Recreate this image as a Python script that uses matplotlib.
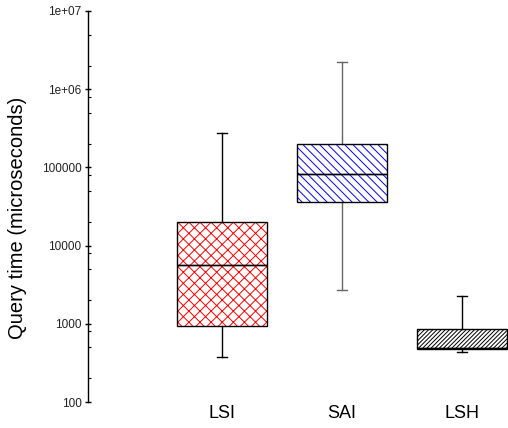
import matplotlib.pyplot as plt
from matplotlib.ticker import FixedLocator, NullFormatter

plt.rcParams['font.family'] = ['Liberation Sans', 'DejaVu Sans']
plt.rcParams['hatch.linewidth'] = 0.7

# box plot numbers (microseconds)
methods = ["LSI", "SAI", "LSH"]
whisker_low = [374, 2670, 438]
box_low = [942, 36300, 473]
medians = [5650, 83000, 492]
box_high = [19900, 201000, 871]
whisker_high = [273000, 2200000, 2240]

hatch_colors = ["#ff0000", "#0000ff", "#000000"]
hatches = ["xxx", "\\\\\\\\", "////////"]
whisker_colors = ["#000000", "#666666", "#000000"]

major_ticks = [100, 1000, 10000, 100000, 1000000, 10000000]
major_labels = ["100", "1000", "10000", "100000", "1e+06", "1e+07"]

stats = []
for i in range(len(methods)):
    stats.append({
        "label": methods[i],
        "whislo": whisker_low[i],
        "q1": box_low[i],
        "med": medians[i],
        "q3": box_high[i],
        "whishi": whisker_high[i],
        "fliers": [],
    })

fig = plt.figure(figsize=(5.08, 4.28), dpi=100)
ax = fig.add_axes([0.173, 0.0607, 0.827, 0.9136])

for i in range(len(methods)):
    # hatched fill first, then the black outline on top
    ax.bxp([stats[i]], positions=[i + 1], widths=0.75, capwidths=0.09,
           patch_artist=True, showfliers=False, manage_ticks=False,
           boxprops=dict(facecolor="white", edgecolor=hatch_colors[i], linewidth=0, hatch=hatches[i]),
           whiskerprops=dict(color=whisker_colors[i], linewidth=1.0),
           capprops=dict(color=whisker_colors[i], linewidth=1.0),
           medianprops=dict(color="black", linewidth=1.0))
    ax.bxp([stats[i]], positions=[i + 1], widths=0.75, capwidths=0.09,
           patch_artist=True, showfliers=False, manage_ticks=False,
           showcaps=False,
           boxprops=dict(facecolor="none", edgecolor="black", linewidth=1.0),
           whiskerprops=dict(linewidth=0),
           medianprops=dict(color="black", linewidth=1.0))

ax.set_yscale("log")
ax.set_ylim(100, 10000000)
ax.set_xlim(-0.1167, 3.3833)

ax.yaxis.set_major_locator(FixedLocator(major_ticks))
ax.set_yticklabels(major_labels)
minor = []
for m in major_ticks[:-1]:
    for f in [2, 5, 8]:
        if m * f < 8000000:
            minor.append(m * f)
ax.yaxis.set_minor_locator(FixedLocator(minor))
ax.yaxis.set_minor_formatter(NullFormatter())
ax.tick_params(axis="y", which="major", direction="inout", length=5, width=1.0,
               labelsize=8.5, pad=2, labelcolor="#222222")
ax.tick_params(axis="y", which="minor", direction="in", length=2.5, width=0.8)

ax.set_xticks([1, 2, 3])
ax.set_xticklabels(methods)
ax.tick_params(axis="x", length=0, labelsize=13, pad=2)

for s in ["top", "right", "bottom"]:
    ax.spines[s].set_visible(False)
ax.spines["left"].set_linewidth(1.0)

ax.set_ylabel("Query time (microseconds)", fontsize=14.5)
ax.yaxis.set_label_coords(-0.145, 0.47)

fig.savefig("out.png", dpi=100)
